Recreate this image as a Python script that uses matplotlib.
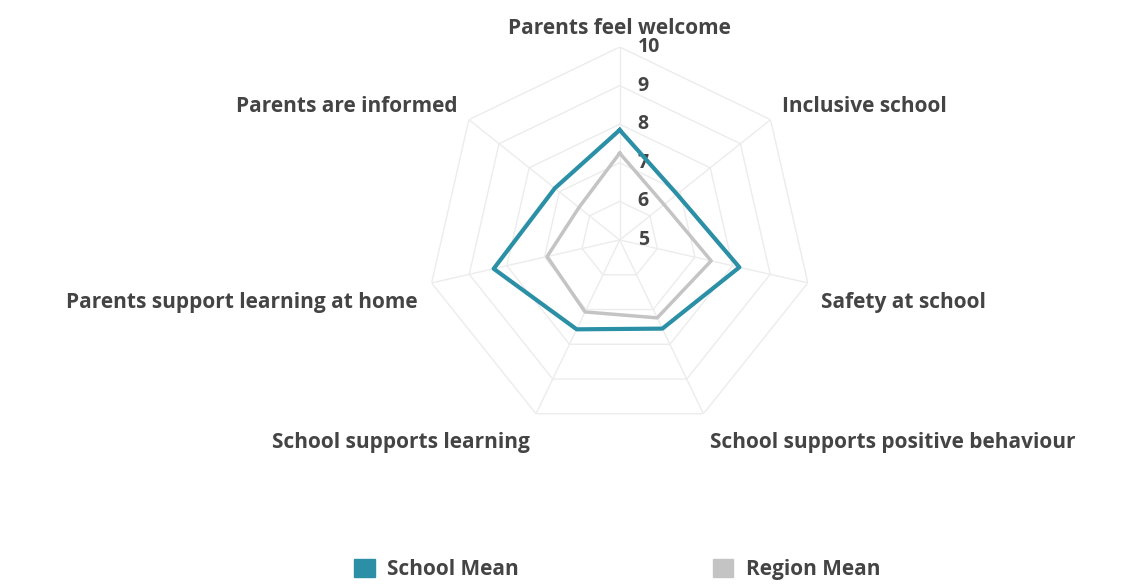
import numpy as np
import matplotlib
matplotlib.use("Agg")
import matplotlib.pyplot as plt
from matplotlib.patches import Patch

categories = [
    "Parents feel welcome",
    "Inclusive school",
    "Safety at school",
    "School supports positive behaviour",
    "School supports learning",
    "Parents support learning at home",
    "Parents are informed",
]
school_mean = [7.85, 6.9, 8.18, 7.55, 7.57, 8.35, 7.15]
region_mean = [7.25, 6.47, 7.43, 7.24, 7.07, 6.93, 6.35]
r_ticks = [5, 6, 7, 8, 9, 10]

teal = "#2b90a6"
gray = "#c4c4c4"
grid_col = "#ececec"
text_col = "#444444"

plt.rcParams["font.family"] = ["Open Sans", "DejaVu Sans"]

fig = plt.figure(figsize=(11.35, 5.84), dpi=100)
ax = fig.add_axes([0.376, 0.2586, 0.340, 0.661], polar=True)
ax.set_theta_zero_location("N")
ax.set_theta_direction(-1)
ax.set_ylim(5, 10)

n = len(categories)
angles = np.linspace(0, 2 * np.pi, n, endpoint=False)
closed = np.append(angles, angles[0])

# heptagon grid instead of circles
ax.grid(False)
ax.spines["polar"].set_visible(False)
ax.set_xticks([])
ax.set_yticks([])
for lvl in r_ticks[1:]:
    ax.plot(closed, [lvl] * (n + 1), color=grid_col, lw=1.0, zorder=1)
for a in angles:
    ax.plot([a, a], [5, 10], color=grid_col, lw=1.0, zorder=1)

ax.plot(closed, np.append(region_mean, region_mean[0]), color=gray, lw=2.5, zorder=3)
ax.plot(closed, np.append(school_mean, school_mean[0]), color=teal, lw=3, zorder=4)

for v in r_ticks:
    ax.annotate(str(v), xy=(0, v), xytext=(18, 0), textcoords="offset pixels",
                ha="left", va="center", fontsize=14, fontweight="bold",
                color=text_col, annotation_clip=False)

# category labels, pushed out from the outer ring
gap = 14
for a, lab in zip(angles, categories):
    s, c = np.sin(a), np.cos(a)
    if abs(s) < 0.1:
        ha = "center"
    elif s > 0:
        ha = "left"
    else:
        ha = "right"
    va = "bottom" if c > 0 else "top"
    ax.annotate(lab, xy=(a, 10), xytext=(gap * s, gap * c - 6), textcoords="offset pixels",
                ha=ha, va=va, fontsize=15, fontweight="bold", color=text_col,
                annotation_clip=False)

handles = [Patch(facecolor=teal, edgecolor=teal, label="School Mean"),
           Patch(facecolor=gray, edgecolor=gray, label="Region Mean")]
fig.legend(handles=handles, loc="center", bbox_to_anchor=(0.5437, 0.025), ncol=2,
           frameon=False, columnspacing=9.3, handlelength=1.0, handleheight=1.0,
           handletextpad=0.6, prop={"size": 15, "weight": "bold"}, labelcolor=text_col)

fig.savefig("out.png", dpi=100, facecolor="white")
